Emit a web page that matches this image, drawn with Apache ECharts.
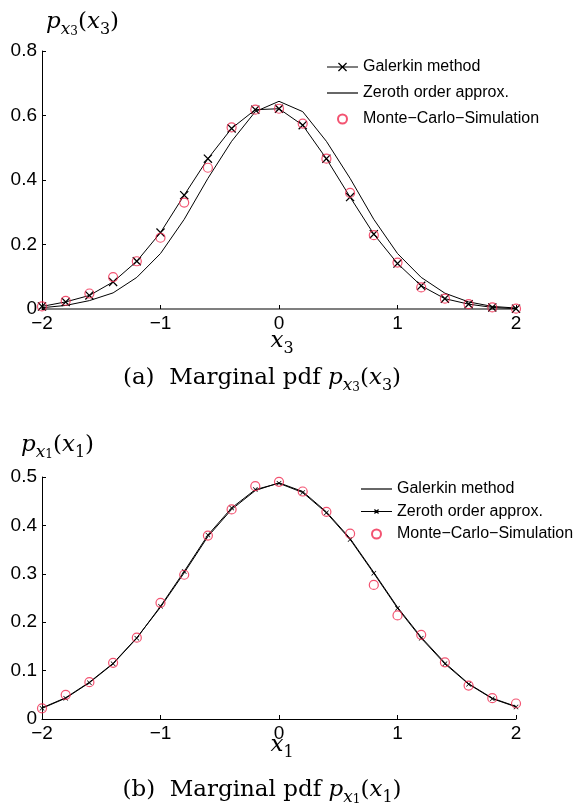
<!DOCTYPE html>
<html>
<head>
<meta charset="utf-8">
<script src="https://cdn.jsdelivr.net/npm/echarts@6/dist/echarts.min.js"></script>
<style>
  body { margin: 0; background: #fff; }
  #pdfX3, #pdfX1 { width: 577px; height: 403px; }
</style>
</head>
<body>
<div id="pdfX3"></div>
<div id="pdfX1"></div>
<script>
// grid points on the x axis
var xs = [-2, -1.8, -1.6, -1.4, -1.2, -1, -0.8, -0.6, -0.4, -0.2, 0, 0.2, 0.4, 0.6, 0.8, 1, 1.2, 1.4, 1.6, 1.8, 2];

// (a) marginal pdf of x3
var galerkinX3 = [0.008, 0.022, 0.042, 0.084, 0.148, 0.237, 0.353, 0.466, 0.56, 0.618, 0.621, 0.57, 0.466, 0.347, 0.232, 0.141, 0.072, 0.032, 0.015, 0.005, 0.001];
var zerothX3 = [0.004, 0.011, 0.026, 0.05, 0.098, 0.172, 0.278, 0.405, 0.52, 0.612, 0.644, 0.612, 0.52, 0.405, 0.278, 0.172, 0.098, 0.049, 0.022, 0.008, 0.003];
var monteCarloX3 = [0.008, 0.025, 0.048, 0.099, 0.148, 0.221, 0.33, 0.438, 0.563, 0.618, 0.621, 0.575, 0.466, 0.36, 0.229, 0.144, 0.067, 0.032, 0.015, 0.005, 0.001];

// (b) marginal pdf of x1
var galerkinX1 = [0.023, 0.044, 0.076, 0.115, 0.168, 0.231, 0.302, 0.377, 0.433, 0.472, 0.488, 0.47, 0.428, 0.373, 0.303, 0.231, 0.169, 0.116, 0.073, 0.043, 0.026];
var zerothX1 = [0.022, 0.043, 0.075, 0.114, 0.167, 0.233, 0.305, 0.38, 0.436, 0.474, 0.487, 0.468, 0.426, 0.371, 0.301, 0.229, 0.167, 0.114, 0.072, 0.042, 0.025];
var monteCarloX1 = [0.022, 0.05, 0.076, 0.116, 0.168, 0.24, 0.298, 0.379, 0.433, 0.481, 0.49, 0.47, 0.428, 0.383, 0.277, 0.214, 0.174, 0.117, 0.069, 0.043, 0.032];

var legendNames = ["Galerkin method", "Zeroth order approx.", "Monte\u2212Carlo\u2212Simulation"];

var RED = "#f0284e";
var CROSS = "path://M0,1L1,0L10,9L9,10Z M9,0L10,1L1,10L0,9Z";
var SANS = "Liberation Sans";
var SERIF = "DejaVu Serif";

// legend icons drawn in a 31x14 box (first two moves pin the box)
var BOX = "path://M0,0M31,14";
var ICON_LINE = BOX + "M0,6.4L31,6.4L31,7.6L0,7.6Z";
var ICON_CIRCLE = BOX + "M11,7A4.5,4.5,0,1,1,20,7A4.5,4.5,0,1,1,11,7Z";
function crossIcon(h) {
  var cx = 15.5, cy = 7, d = 0.9;
  function p(x, y) { return x + "," + y; }
  return ICON_LINE +
    "M" + p(cx - h, cy - h + d) + "L" + p(cx - h + d, cy - h) + "L" + p(cx + h, cy + h - d) + "L" + p(cx + h - d, cy + h) + "Z" +
    "M" + p(cx + h - d, cy - h) + "L" + p(cx + h, cy - h + d) + "L" + p(cx - h + d, cy + h) + "L" + p(cx - h, cy + h - d) + "Z";
}

var rich = {
  m: { fontFamily: SERIF, fontStyle: "italic", fontSize: 23, lineHeight: 32 },
  r: { fontFamily: SERIF, fontSize: 23, lineHeight: 32 },
  s: { fontFamily: SERIF, fontStyle: "italic", fontSize: 17, lineHeight: 16, verticalAlign: "bottom" },
  sr: { fontFamily: SERIF, fontSize: 16, lineHeight: 16, verticalAlign: "bottom" },
  ss: { fontFamily: SERIF, fontSize: 12, lineHeight: 11, verticalAlign: "bottom" },
};

function pairs(ys) {
  return xs.map(function (x, i) {
    return [x, ys[i]];
  });
}

function mathLabel(x, y, text, align) {
  return {
    type: "text",
    x: x,
    y: y,
    style: { text: text, rich: rich, align: align, verticalAlign: "middle", fill: "#000" },
  };
}

function buildOption(cfg) {
  return {
    animation: false,
    backgroundColor: "#fff",
    grid: {
      left: 42,
      top: cfg.gridTop,
      width: 474,
      height: cfg.gridHeight,
      outerBoundsMode: "none",
    },
    legend: {
      orient: "vertical",
      left: cfg.legendLeft,
      top: cfg.legendTop,
      padding: 0,
      itemWidth: 31,
      itemHeight: 14,
      itemGap: cfg.legendGap,
      data: cfg.legendData,
      textStyle: { fontFamily: SANS, fontSize: 16, color: "#000" },
    },
    xAxis: {
      type: "value",
      min: -2,
      max: 2,
      interval: 1,
      axisLine: { onZero: false, lineStyle: { color: cfg.xAxisColor, width: cfg.xAxisWidth } },
      axisTick: { inside: true, length: 4, lineStyle: { color: "#000" } },
      axisLabel: {
        margin: 5,
        fontFamily: SANS,
        fontSize: 19,
        color: "#000",
        formatter: function (v) {
          return v < 0 ? "\u2212" + -v : String(v);
        },
      },
      splitLine: { show: false },
    },
    yAxis: {
      type: "value",
      min: 0,
      max: cfg.yMax,
      interval: cfg.yStep,
      axisLine: { show: true, onZero: false, lineStyle: { color: "#000" } },
      axisTick: { show: true, inside: true, length: 4, lineStyle: { color: "#000" } },
      axisLabel: {
        margin: 5,
        fontFamily: SANS,
        fontSize: 19,
        color: "#000",
        formatter: function (v) {
          return v === 0 ? "0" : v.toFixed(1);
        },
      },
      splitLine: { show: false },
    },
    graphic: [
      mathLabel(cfg.yNameX, cfg.yNameY, cfg.yName, "left"),
      mathLabel(282, cfg.xNameY, cfg.xName, "center"),
      mathLabel(262, cfg.captionY, cfg.caption, "center"),
    ],
    series: cfg.series,
  };
}

function lineSeries(name, ys, symbolSize) {
  return {
    name: name,
    type: "line",
    data: pairs(ys),
    symbol: symbolSize ? CROSS : "none",
    symbolSize: symbolSize || 0,
    showSymbol: !!symbolSize,
    itemStyle: { color: "#000", borderWidth: 0 },
    lineStyle: { color: "#000", width: 1 },
    emphasis: { disabled: true },
  };
}

function mcSeries(ys) {
  return {
    name: legendNames[2],
    type: "scatter",
    data: pairs(ys),
    symbol: "circle",
    symbolSize: 9,
    itemStyle: { color: "rgba(0,0,0,0)", borderColor: RED, borderWidth: 1.2 },
    emphasis: { disabled: true },
    z: 3,
  };
}

var chartX3 = echarts.init(document.getElementById("pdfX3"));
chartX3.setOption(
  buildOption({
    gridTop: 51,
    gridHeight: 258,
    yMax: 0.8,
    yStep: 0.2,
    xAxisColor: "#7f7f7f",
    xAxisWidth: 2,
    legendLeft: 326,
    legendTop: 59,
    legendGap: 10,
    legendData: [
      { name: legendNames[0], icon: crossIcon(4.5), itemStyle: { color: "#000", borderWidth: 0 } },
      { name: legendNames[1], icon: ICON_LINE, itemStyle: { color: "#000", borderWidth: 0 } },
      { name: legendNames[2], icon: ICON_CIRCLE },
    ],
    yNameX: 46,
    yNameY: 22,
    yName: "{m|p}{s|x}{ss|3}{r|(}{m|x}{sr|3}{r|)}",
    xNameY: 341,
    xName: "{m|x}{sr|3}",
    captionY: 378,
    caption: "{r|(a)  Marginal pdf }{m|p}{s|x}{ss|3}{r|(}{m|x}{sr|3}{r|)}",
    series: [
      lineSeries(legendNames[0], galerkinX3, 9),
      lineSeries(legendNames[1], zerothX3, 0),
      mcSeries(monteCarloX3),
    ],
  })
);

var chartX1 = echarts.init(document.getElementById("pdfX1"));
chartX1.setOption(
  buildOption({
    gridTop: 74,
    gridHeight: 242,
    yMax: 0.5,
    yStep: 0.1,
    xAxisColor: "#000",
    xAxisWidth: 1,
    legendLeft: 360,
    legendTop: 78,
    legendGap: 6.5,
    legendData: [
      { name: legendNames[0], icon: ICON_LINE, itemStyle: { color: "#000", borderWidth: 0 } },
      { name: legendNames[1], icon: crossIcon(2.5), itemStyle: { color: "#000", borderWidth: 0 } },
      { name: legendNames[2], icon: ICON_CIRCLE },
    ],
    yNameX: 21,
    yNameY: 42,
    yName: "{m|p}{s|x}{ss|1}{r|(}{m|x}{sr|1}{r|)}",
    xNameY: 342,
    xName: "{m|x}{sr|1}",
    captionY: 387,
    caption: "{r|(b)  Marginal pdf }{m|p}{s|x}{ss|1}{r|(}{m|x}{sr|1}{r|)}",
    series: [
      lineSeries(legendNames[0], galerkinX1, 0),
      lineSeries(legendNames[1], zerothX1, 5),
      mcSeries(monteCarloX1),
    ],
  })
);
</script>
</body>
</html>
